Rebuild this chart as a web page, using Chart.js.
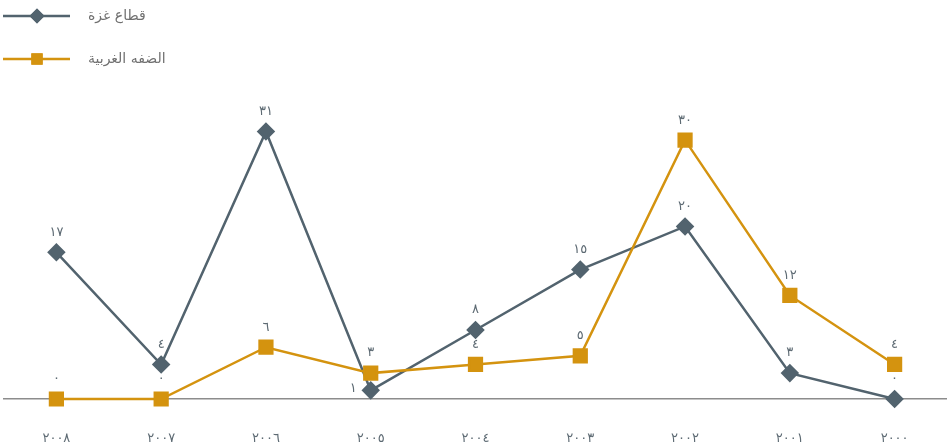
<!DOCTYPE html>
<html lang="ar">
<head>
<meta charset="utf-8">
<script src="https://cdn.jsdelivr.net/npm/chart.js@4/dist/chart.umd.min.js"></script>
<style>
  html, body { margin: 0; padding: 0; background: #fff; }
  #wrap { width: 947px; height: 446px; position: relative; }
</style>
</head>
<body>
<div id="wrap"><canvas id="chart"></canvas></div>
<script>
'use strict';

// years, oldest first (axis is drawn right-to-left)
const years      = ['٢٠٠٠', '٢٠٠١', '٢٠٠٢', '٢٠٠٣', '٢٠٠٤', '٢٠٠٥', '٢٠٠٦', '٢٠٠٧', '٢٠٠٨'];
const gazaName   = 'قطاع غزة';
const wbName     = 'الضفه الغربية';
const gazaValues = [0, 3, 20, 15, 8, 1, 31, 4, 17];
const wbValues   = [4, 12, 30, 5, 4, 3, 6, 0, 0];

const GAZA = '#52636e';
const GOLD = '#d4930f';
const TEXT = '#5d6a73';
const FONT = "'DejaVu Sans', sans-serif";

const AR_DIGITS = '٠١٢٣٤٥٦٧٨٩';
const toArabic = n => String(n).replace(/[0-9]/g, d => AR_DIGITS[+d]);

// ── value labels above each point ──────────────────
const valueLabels = {
  id: 'valueLabels',
  afterDatasetsDraw(chart) {
    const ctx = chart.ctx;
    ctx.save();
    ctx.font = '13px ' + FONT;
    ctx.fillStyle = TEXT;
    ctx.textBaseline = 'middle';
    chart.data.datasets.forEach((ds, di) => {
      const meta = chart.getDatasetMeta(di);
      meta.data.forEach((pt, i) => {
        let x = pt.x, y = pt.y - 20;
        ctx.textAlign = 'center';
        // move label to the left if it would sit on the other series' point
        const clash = chart.data.datasets.some((o, oi) => {
          if (oi === di) return false;
          const op = chart.getDatasetMeta(oi).data[i];
          return Math.abs(op.y - y) < 10;
        });
        if (clash) { x = pt.x - 14; y = pt.y - 2; ctx.textAlign = 'right'; }
        ctx.fillText(toArabic(ds.data[i]), x, y);
      });
    });
    ctx.restore();
  }
};

// ── legend: line + marker, label to the right ───────
const lineLegend = {
  id: 'lineLegend',
  afterDraw(chart) {
    const ctx = chart.ctx;
    const items = [
      { name: gazaName, color: GAZA, style: 'rectRot', r: 7.5, y: 16 },
      { name: wbName,   color: GOLD, style: 'rect',    r: 8,   y: 59 }
    ];
    ctx.save();
    items.forEach(it => {
      ctx.strokeStyle = it.color;
      ctx.lineWidth = 2.5;
      ctx.beginPath();
      ctx.moveTo(3, it.y);
      ctx.lineTo(70, it.y);
      ctx.stroke();
      ctx.fillStyle = it.color;
      Chart.helpers.drawPoint(ctx, { pointStyle: it.style, radius: it.r, borderWidth: 0 }, 37, it.y);
      ctx.fill();
      ctx.fillStyle = '#707070';
      ctx.font = '14px ' + FONT;
      ctx.textAlign = 'left';
      ctx.textBaseline = 'middle';
      ctx.fillText(it.name, 88, it.y);
    });
    ctx.restore();
  }
};

new Chart(document.getElementById('chart').getContext('2d'), {
  type: 'line',
  data: {
    labels: years,
    datasets: [
      {
        label: wbName,
        data: wbValues,
        borderColor: GOLD, backgroundColor: GOLD,
        borderWidth: 2.5, pointStyle: 'rect',
        pointRadius: 9, pointHoverRadius: 9,
        tension: 0, clip: false
      },
      {
        label: gazaName,
        data: gazaValues,
        borderColor: GAZA, backgroundColor: GAZA,
        borderWidth: 2.5, pointStyle: 'rectRot',
        pointRadius: 7.5, pointHoverRadius: 7.5,
        tension: 0, clip: false
      }
    ]
  },
  options: {
    responsive: true, maintainAspectRatio: false,
    animation: false,
    layout: { autoPadding: false, padding: { top: 97, left: 4, right: 0, bottom: 0 } },
    plugins: {
      legend: { display: false },
      tooltip: { enabled: false }
    },
    scales: {
      x: {
        reverse: true,
        offset: true,
        grid: { display: false, drawTicks: false },
        border: { display: true, color: '#8c8c8c', width: 1.5 },
        ticks: { color: TEXT, padding: 32, font: { family: FONT, size: 13 } },
        afterFit: scale => { scale.height = 47; }
      },
      y: {
        display: false,
        min: 0, max: 35
      }
    }
  },
  plugins: [valueLabels, lineLegend]
});
</script>
</body>
</html>
